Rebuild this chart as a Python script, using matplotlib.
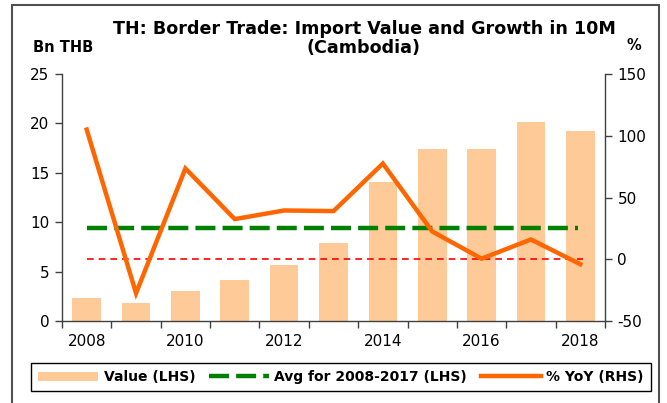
import matplotlib
matplotlib.use("Agg")
import matplotlib.pyplot as plt
from matplotlib.patches import Rectangle
import numpy as np

plt.rcParams['font.family'] = ['DejaVu Sans']
plt.rcParams['axes.unicode_minus'] = False

years = [2008, 2009, 2010, 2011, 2012, 2013, 2014, 2015, 2016, 2017, 2018]
value_bn_thb = [2.3, 1.8, 3.0, 4.1, 5.7, 7.9, 14.1, 17.4, 17.4, 20.1, 19.2]
yoy_pct = [105, -27.5, 73.5, 32.5, 39.5, 39, 77.5, 22.5, 0.5, 16, -4]
avg_2008_2017 = 9.4
year_labels = ['2008', '2010', '2012', '2014', '2016', '2018']

fig = plt.figure(figsize=(6.67, 4.03), dpi=100)
ax = fig.add_axes([62/667, 1-321/403, (605-62)/667, (321-74)/403])
ax2 = ax.twinx()

x = np.arange(len(years))
bars = ax.bar(x, value_bn_thb, width=0.58, color='#FDCA98', zorder=1, label='Value (LHS)')
avg_line, = ax.plot([0, 9.95], [avg_2008_2017]*2, color='#008000', lw=3.2,
                    dashes=(4.5, 1.6), zorder=3, label='Avg for 2008-2017 (LHS)')
ax2.plot([0, 10.05], [0, 0], color='#FF0000', lw=1.2, dashes=(4, 3), zorder=2)
yoy_line, = ax2.plot(x, yoy_pct, color='#FF6600', lw=3.2, zorder=4, label='% YoY (RHS)',
                     solid_joinstyle='miter')

ax.set_xlim(-0.5, 10.5)
ax.set_ylim(0, 25)
ax2.set_ylim(-50, 150)
ax.set_yticks([0, 5, 10, 15, 20, 25])
ax2.set_yticks([-50, 0, 50, 100, 150])

ax.set_xticks(np.arange(0, 11, 2))
ax.set_xticklabels(year_labels)
ax.set_xticks(np.arange(-0.5, 11, 1), minor=True)
ax.tick_params(axis='x', which='major', length=0, pad=9, labelsize=11)
ax.tick_params(axis='x', which='minor', length=5, width=1, direction='out', color='#404040')
ax.tick_params(axis='y', length=5, width=1, direction='out', color='#404040', labelsize=11, pad=4)
ax2.tick_params(axis='y', length=5, width=1, direction='out', color='#404040', labelsize=11, pad=4)

for a in (ax, ax2):
    a.spines['top'].set_visible(False)
    for s in ('left', 'right', 'bottom'):
        a.spines[s].set_color('#404040')
        a.spines[s].set_linewidth(1)
ax.spines['right'].set_visible(False)
ax2.spines['left'].set_visible(False)
ax2.spines['bottom'].set_visible(False)

fig.text(364/667, 1-29/403, 'TH: Border Trade: Import Value and Growth in 10M', ha='center', va='center',
         fontsize=12.6, fontweight='bold')
fig.text(364/667, 1-48/403, '(Cambodia)', ha='center', va='center', fontsize=12.6, fontweight='bold')
fig.text(63/667, 1-47/403, 'Bn THB', ha='center', va='center', fontsize=10.5, fontweight='bold')
fig.text(634/667, 1-45/403, '%', ha='center', va='center', fontsize=10.5, fontweight='bold')

leg = fig.legend([bars, avg_line, yoy_line], ['Value (LHS)', 'Avg for 2008-2017 (LHS)', '% YoY (RHS)'],
                 loc='center', bbox_to_anchor=(341/667, 1-377/403), ncol=3, frameon=True,
                 fancybox=False, edgecolor='black', prop={'weight': 'bold', 'size': 10},
                 handlelength=4.3, handleheight=0.6, columnspacing=1.0, handletextpad=0.4,
                 borderpad=0.5, framealpha=1)
leg.get_frame().set_linewidth(1)

fig.patches.append(Rectangle((12/667, -0.02), (659-12)/667, 1-5/403+0.02, transform=fig.transFigure,
                             fill=False, edgecolor='#505050', lw=1.5))

fig.savefig('out.png', dpi=100)
